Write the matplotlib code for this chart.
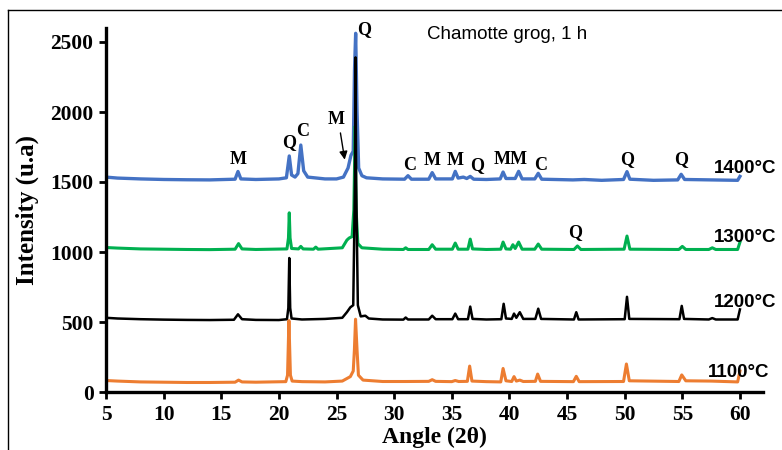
import numpy as np
import matplotlib
matplotlib.use("Agg")
import matplotlib.pyplot as plt
from matplotlib.lines import Line2D

# ── data ((2theta, intensity) vertices) ──────────────────────────────────────
xrd_1100 = [
    (5, 82), (6, 78), (8, 72), (10, 70), (12, 68), (14, 68), (16.2, 70), (16.5, 85), (16.8, 72),
    (18, 70), (20.6, 74), (20.75, 120), (20.87, 510), (21.0, 120), (21.15, 78), (22, 74), (24, 72),
    (25.5, 78), (26.2, 110), (26.45, 150), (26.55, 300), (26.65, 520), (26.78, 300), (26.9, 120),
    (27.3, 85), (29, 75), (31, 75), (33.0, 76), (33.3, 88), (33.6, 76), (35.0, 74), (35.3, 82),
    (35.6, 75), (36.35, 76), (36.55, 185), (36.75, 78), (38, 74), (39.25, 72), (39.45, 168),
    (39.7, 80), (40.2, 75), (40.4, 110), (40.6, 78), (40.9, 85), (41.2, 75), (42.25, 76),
    (42.45, 128), (42.7, 76), (45.55, 74), (45.8, 112), (46.05, 74), (49.9, 75), (50.15, 200),
    (50.4, 80), (54.7, 75), (54.95, 122), (55.3, 80), (57.5, 78), (59.8, 72), (60, 150),
]
xrd_1200 = [
    (5, 530), (6, 525), (8, 520), (10, 517), (12, 515), (14, 514), (16.1, 516), (16.45, 555),
    (16.8, 520), (18, 515), (20, 514), (20.7, 520), (20.82, 600), (20.9, 957), (20.98, 600),
    (21.1, 525), (22, 518), (24, 522), (25.5, 530), (25.9, 570), (26.2, 605), (26.45, 620),
    (26.6, 1500), (26.65, 2390), (26.7, 1500), (26.85, 620), (27.1, 540), (27.5, 545),
    (27.8, 525), (29, 518), (30.8, 517), (31.0, 532), (31.2, 518), (33.0, 518), (33.3, 545),
    (33.6, 520), (35.05, 520), (35.3, 560), (35.55, 520), (36.4, 520), (36.6, 610), (36.8, 522),
    (38, 518), (39.3, 520), (39.5, 630), (39.7, 525), (40.2, 522), (40.4, 560), (40.6, 530),
    (40.9, 570), (41.2, 522), (42.25, 522), (42.5, 595), (42.75, 522), (45.6, 518), (45.8, 570),
    (46.0, 518), (50.0, 520), (50.2, 680), (50.4, 522), (54.75, 520), (54.95, 615), (55.15, 522),
    (57.3, 518), (57.6, 528), (57.9, 518), (59.8, 518), (60, 590),
]
xrd_1300 = [
    (5, 1032), (6, 1028), (8, 1022), (10, 1020), (12, 1018), (14, 1017), (16.2, 1020),
    (16.5, 1060), (16.8, 1022), (18, 1018), (20.7, 1022), (20.83, 1100), (20.9, 1280),
    (20.97, 1100), (21.1, 1025), (21.7, 1022), (21.9, 1040), (22.1, 1022), (23.0, 1020),
    (23.2, 1035), (23.4, 1020), (25.5, 1030), (25.9, 1085), (26.1, 1100), (26.35, 1110),
    (26.5, 1300), (26.62, 1900), (26.7, 1300), (26.85, 1060), (27.2, 1030), (29, 1020),
    (30.8, 1018), (31.0, 1030), (31.2, 1018), (33.0, 1018), (33.3, 1052), (33.6, 1020),
    (35.05, 1020), (35.3, 1064), (35.55, 1020), (36.4, 1020), (36.6, 1092), (36.8, 1022),
    (38, 1018), (39.25, 1020), (39.45, 1071), (39.7, 1022), (40.1, 1020), (40.3, 1052),
    (40.5, 1025), (40.8, 1071), (41.1, 1020), (42.2, 1020), (42.5, 1057), (42.8, 1020),
    (45.6, 1018), (45.9, 1043), (46.2, 1018), (49.95, 1020), (50.2, 1114), (50.45, 1020),
    (54.7, 1018), (55.0, 1040), (55.3, 1018), (57.3, 1018), (57.6, 1030), (57.9, 1018),
    (59.8, 1018), (60, 1070),
]
xrd_1400 = [
    (5, 1535), (6, 1528), (8, 1522), (10, 1518), (12, 1516), (14, 1515), (16.2, 1520),
    (16.45, 1575), (16.7, 1522), (18, 1518), (20.0, 1522), (20.65, 1530), (20.9, 1686),
    (21.1, 1550), (21.4, 1535), (21.65, 1560), (21.9, 1764), (22.15, 1580), (22.5, 1535),
    (24, 1522), (25, 1522), (25.6, 1535), (26.0, 1600), (26.25, 1690), (26.45, 1720),
    (26.56, 2300), (26.66, 2562), (26.78, 2000), (26.92, 1600), (27.2, 1545), (27.6, 1530),
    (29, 1522), (30.9, 1520), (31.2, 1545), (31.5, 1520), (33.0, 1520), (33.3, 1567),
    (33.6, 1522), (35.05, 1522), (35.3, 1576), (35.55, 1528), (36.0, 1535), (36.3, 1525),
    (36.6, 1540), (36.9, 1520), (38, 1518), (39.2, 1522), (39.45, 1571), (39.7, 1525),
    (40.5, 1525), (40.8, 1576), (41.1, 1522), (42.2, 1522), (42.5, 1562), (42.8, 1520),
    (45.5, 1515), (46.5, 1518), (48, 1512), (49.9, 1518), (50.2, 1574), (50.45, 1520),
    (52.5, 1512), (54.6, 1515), (54.9, 1555), (55.2, 1518), (57.5, 1515), (59.8, 1512),
    (60, 1540),
]

series_labels = ["1400°C", "1300°C", "1200°C", "1100°C"]
series_colors = ["#4472C4", "#00B050", "#000000", "#ED7D31"]
series_widths = [2.4, 2.2, 1.8, 2.2]
label_pos = [(57.7, 1595), (57.7, 1107), (57.7, 636), (57.2, 136)]

# phase markers: (text, x, y)
phase_marks = [
    ("M", 16.45, 1660), ("Q", 20.9, 1779), ("C", 22.1, 1860), ("M", 25.0, 1943),
    ("Q", 27.4, 2590), ("C", 31.3, 1621), ("M", 33.3, 1655), ("M", 35.3, 1655),
    ("Q", 37.2, 1621), ("MM", 40.1, 1660), ("C", 42.7, 1621), ("Q", 50.2, 1660),
    ("Q", 54.9, 1660), ("Q", 45.7, 1136),
]

SERIF = ["Liberation Serif", "DejaVu Serif"]
SANS = ["Liberation Sans", "DejaVu Sans"]

fig = plt.figure(figsize=(7.82, 4.5), dpi=100)
ax = fig.add_axes([106 / 782, 1 - 392 / 450, (763 - 106) / 782, (392 - 28) / 450])

for data, col, lw in zip([xrd_1400, xrd_1300, xrd_1200, xrd_1100], series_colors, series_widths):
    arr = np.array(data, dtype=float)
    ax.plot(arr[:, 0], arr[:, 1], color=col, linewidth=lw, solid_joinstyle="round")

for (tx, ty), lab in zip(label_pos, series_labels):
    ax.text(tx, ty, lab, family=SANS, fontweight="bold", fontsize=13.5,
            ha="left", va="center")

for txt, tx, ty in phase_marks:
    ax.text(tx, ty, txt, family=SERIF, fontweight="bold", fontsize=13,
            ha="center", va="center")

ax.annotate("", xy=(25.75, 1640), xytext=(25.3, 1870),
            arrowprops=dict(arrowstyle="-|>", color="black", lw=1, mutation_scale=12))

ax.text(32.85, 2550, "Chamotte grog, 1 h", family=SANS, fontsize=13.5,
        ha="left", va="center")

ax.set_xlim(5, 62)
ax.set_ylim(0, 2600)
ax.set_xticks(np.arange(5, 61, 5))
ax.set_yticks(np.arange(0, 2501, 500))
for s in ["top", "right"]:
    ax.spines[s].set_visible(False)
for s in ["left", "bottom"]:
    ax.spines[s].set_linewidth(2.4)
ax.tick_params(direction="out", length=5, width=2, pad=4)
for lab in ax.get_xticklabels() + ax.get_yticklabels():
    lab.set_family(SERIF)
    lab.set_fontweight("bold")
    lab.set_fontsize(15.5)

ax.set_xlabel("Angle (2θ)", family=SERIF, fontweight="bold", fontsize=17, labelpad=2)
ax.set_ylabel("Intensity (u.a)", family=SERIF, fontweight="bold", fontsize=18, labelpad=8)

# outer frame of the original figure
frame_kw = dict(color="black", linewidth=1.0, transform=fig.transFigure)
fig.add_artist(Line2D([8 / 782, 8 / 782], [0, 1 - 10 / 450], **frame_kw))
fig.add_artist(Line2D([8 / 782, 1], [1 - 10 / 450, 1 - 10 / 450], **frame_kw))

fig.savefig("out.png", dpi=100)
